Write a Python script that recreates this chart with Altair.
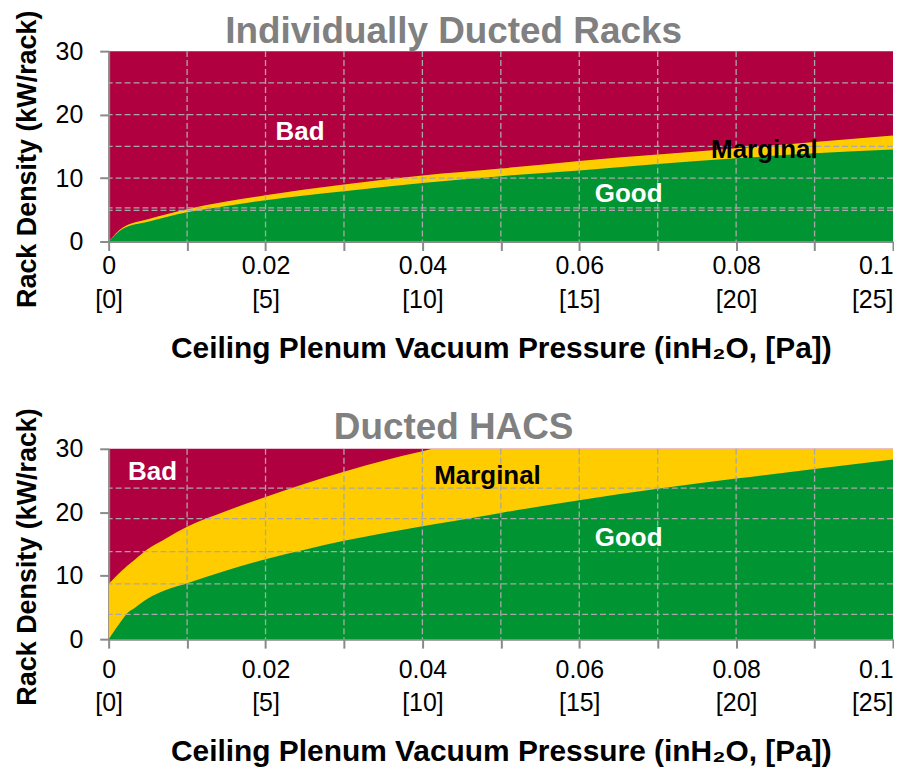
import altair as alt
import pandas as pd

FONT = "Liberation Sans"
BAD = "#B00040"
MARG = "#FFCC00"
GOOD = "#009532"
GRID = "#A8A8A8"
AXIS = "#8A8A8A"
TITLE_GRAY = "#808080"

X_TITLE = "Ceiling Plenum Vacuum Pressure (inH₂O, [Pa])"
Y_TITLE = "Rack Density (kW/rack)"

X_TICKS = [0, 0.01, 0.02, 0.03, 0.04, 0.05, 0.06, 0.07, 0.08, 0.09, 0.1]
Y_TICKS = [0, 5, 10, 15, 20, 25, 30]
V_GRID = [0.01, 0.02, 0.03, 0.04, 0.05, 0.06, 0.07, 0.08, 0.09]

# --- Panel 1: Individually Ducted Racks ---
top_x = [0, 0.0018, 0.005, 0.01, 0.015, 0.02, 0.03, 0.04, 0.05, 0.06, 0.07, 0.08, 0.09, 0.1]
top_good = [0, 2.0, 3.1, 4.6, 5.6, 6.5, 7.9, 9.2, 10.3, 11.2, 12.2, 13.1, 13.9, 14.5]
top_marg = [0, 2.2, 3.5, 5.1, 6.3, 7.3, 9.0, 10.4, 11.5, 12.7, 13.7, 14.7, 15.7, 16.7]
top_hgrid = [25, 20, 15, 10, 5.3, 4.9]
top_lab_text = ["Bad", "Marginal", "Good"]
top_lab_x = [0.0244, 0.0836, 0.0663]
top_lab_y = [17.3, 14.4, 7.5]
top_lab_color = ["white", "black", "white"]

# --- Panel 2: Ducted HACS ---
bot_x = [0, 0.0017, 0.0023, 0.0034, 0.005, 0.0072, 0.01, 0.015, 0.02, 0.025,
         0.03, 0.035, 0.04, 0.0415, 0.05, 0.06, 0.07, 0.08, 0.09, 0.1]
bot_good = [0, 3.0, 4.0, 5.0, 6.4, 7.7, 8.8, 10.8, 12.6, 14.1,
            15.5, 16.7, 17.8, 18.1, 19.9, 21.9, 23.7, 25.3, 26.8, 28.3]
bot_marg = [8.7, 10.8, 11.5, 12.6, 14.2, 15.8, 17.7, 20.2, 22.4, 24.5,
            26.4, 28.1, 29.6, 30, 30, 30, 30, 30, 30, 30]
bot_hgrid = [23.8, 19.0, 13.8, 8.7, 3.9]
bot_lab_text = ["Bad", "Marginal", "Good"]
bot_lab_x = [0.0056, 0.0483, 0.0663]
bot_lab_y = [26.3, 25.7, 15.9]
bot_lab_color = ["white", "black", "white"]


def panel(title, xs, good, marg, hgrid, lt, lx, ly, lc, label_pad, title_pad, t_off):
    df = pd.DataFrame({"x": xs, "good": good, "marg": marg})
    xscale = alt.Scale(domain=[0, 0.1], nice=False, zero=False)
    yscale = alt.Scale(domain=[0, 30], nice=False)
    xaxis = alt.Axis(
        values=X_TICKS,
        labelExpr="round(datum.value*100) % 2 == 0 ? [format(datum.value, '~g'), '[' + round(datum.value*250) + ']'] : ''",
        labelAlign={"condition": {"test": "datum.value > 0.099", "value": "right"}, "value": "center"},
        labelFlush=False,
        labelOverlap=False,
        labelPadding=label_pad,
        labelLineHeight=34,
        title=X_TITLE,
        titlePadding=title_pad,
        titleFontSize=30,
        grid=False,
    )
    yaxis = alt.Axis(
        values=Y_TICKS,
        labelExpr="datum.value % 10 == 0 ? datum.label : ''",
        labelOverlap=False,
        labelPadding=17,
        title=Y_TITLE,
        titlePadding=14,
        titleFontSize=27,
        titleY=108,
        grid=False,
    )
    marg_area = alt.Chart(df).mark_area(color=MARG, clip=True, interpolate="monotone").encode(
        x=alt.X("x:Q", scale=xscale, axis=xaxis),
        y=alt.Y("marg:Q", scale=yscale, axis=yaxis),
    )
    good_area = alt.Chart(df).mark_area(color=GOOD, clip=True, interpolate="monotone").encode(
        x="x:Q", y="good:Q"
    )
    vg = alt.Chart(pd.DataFrame({"gx": V_GRID})).mark_rule(
        color=GRID, strokeDash=[6, 3], strokeWidth=1.3
    ).encode(x="gx:Q")
    hg = alt.Chart(pd.DataFrame({"gy": hgrid})).mark_rule(
        color=GRID, strokeDash=[6, 3], strokeWidth=1.3
    ).encode(y="gy:Q")
    ldf = pd.DataFrame({"t": lt, "lx": lx, "ly": ly, "c": lc})
    labels = alt.Chart(ldf).mark_text(
        font=FONT, fontSize=26, fontWeight="bold", baseline="middle", align="center"
    ).encode(
        x="lx:Q", y="ly:Q", text="t:N", color=alt.Color("c:N", scale=None)
    )
    return alt.layer(marg_area, good_area, vg, hg, labels).properties(
        width=787,
        height=191,
        title=alt.Title(
            title, font=FONT, fontSize=37, fontWeight="bold", color=TITLE_GRAY,
            anchor="middle", frame="bounds", offset=t_off,
        ),
    )


top = panel("Individually Ducted Racks", top_x, top_good, top_marg, top_hgrid,
            top_lab_text, top_lab_x, top_lab_y, top_lab_color, 3, 21, -41)
bot = panel("Ducted HACS", bot_x, bot_good, bot_marg, bot_hgrid,
            bot_lab_text, bot_lab_x, bot_lab_y, bot_lab_color, 9, 21, -39)

chart = alt.vconcat(top, bot, spacing=44).properties(
    padding={"left": 5, "top": 0, "right": 0, "bottom": 0}
).configure_view(
    fill=BAD, strokeWidth=0
).configure_axis(
    domainColor=AXIS, domainWidth=2, tickColor=AXIS, tickWidth=2, tickSize=9,
    labelFont=FONT, labelFontSize=25, labelColor="black",
    titleFont=FONT, titleFontWeight="bold", titleColor="black",
).configure_concat(spacing=44)

chart.save("out.html", embed_options={"renderer": "svg", "actions": False})
